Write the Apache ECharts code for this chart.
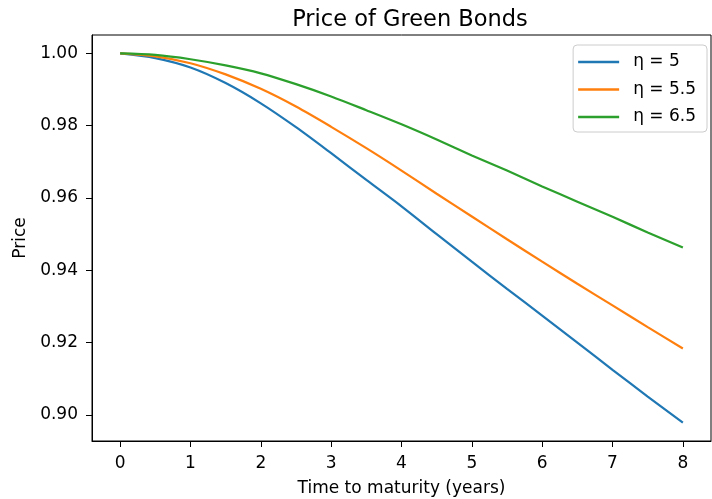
<!DOCTYPE html>
<html>
<head>
<meta charset="utf-8">
<script src="https://cdn.jsdelivr.net/npm/echarts@6/dist/echarts.min.js"></script>
<style>html,body{margin:0;padding:0;background:#fff}#c{width:712px;height:499px}</style>
</head>
<body>
<div id="c"></div>
<script>
const years = [0, 0.5, 1, 1.5, 2, 2.5, 3, 3.5, 4, 4.5, 5, 5.5, 6, 6.5, 7, 7.5, 8];
const eta5  = [1.0000, 0.9987, 0.9961, 0.9918, 0.9862, 0.9796, 0.9724, 0.9650, 0.9577, 0.9500, 0.9424, 0.9349, 0.9275, 0.9200, 0.9125, 0.9051, 0.8979];
const eta55 = [1.0000, 0.9992, 0.9973, 0.9942, 0.9902, 0.9853, 0.9797, 0.9738, 0.9676, 0.9612, 0.9549, 0.9486, 0.9424, 0.9363, 0.9303, 0.9243, 0.9184];
const eta65 = [1.0000, 0.9996, 0.9984, 0.9967, 0.9945, 0.9915, 0.9881, 0.9843, 0.9804, 0.9762, 0.9718, 0.9676, 0.9632, 0.9590, 0.9548, 0.9505, 0.9463];
const xTicks = [0, 1, 2, 3, 4, 5, 6, 7, 8];
const yTicks = [0.90, 0.92, 0.94, 0.96, 0.98, 1.00];
const names = ['η = 5', 'η = 5.5', 'η = 6.5'];
const colors = ['#1f77b4', '#ff7f0e', '#2ca02c'];
const seriesVals = [eta5, eta55, eta65];

const font = 'DejaVu Sans';
const chart = echarts.init(document.getElementById('c'), null, {renderer: 'canvas'});
chart.setOption({
  animation: false,
  backgroundColor: '#fff',
  title: {
    text: 'Price of Green Bonds', left: 405, top: 4, textAlign: 'center',
    textStyle: {fontFamily: font, fontSize: 22.5, fontWeight: 'normal', color: '#000'}
  },
  legend: {
    orient: 'vertical', right: 5, top: 45,
    data: names.map(n => ({name: n, icon: 'rect'})),
    itemWidth: 41, itemHeight: 2.5, itemGap: 7.5,
    padding: [7, 11, 5, 5],
    borderColor: '#cccccc', borderWidth: 1, borderRadius: 4,
    backgroundColor: 'rgba(255,255,255,0.8)',
    textStyle: {fontFamily: font, fontSize: 17, color: '#000', lineHeight: 20, padding: [0, 0, 0, 9]}
  },
  grid: {left: 92, right: 1, top: 35, bottom: 58, outerBoundsMode: 'none', containLabel: false,
    show: true, borderColor: '#000', borderWidth: 1, backgroundColor: 'transparent'},
  xAxis: {
    type: 'value', min: -0.4, max: 8.4,
    name: 'Time to maturity (years)', nameLocation: 'middle', nameGap: 39,
    nameTextStyle: {fontFamily: font, fontSize: 17, color: '#000'},
    axisLine: {show: true, onZero: false, lineStyle: {color: '#000', width: 1}},
    axisTick: {show: true, customValues: xTicks, length: 6, lineStyle: {color: '#000', width: 1}},
    axisLabel: {customValues: xTicks, fontFamily: font, fontSize: 17, color: '#000', margin: 14, formatter: v => String(v)},
    splitLine: {show: false}
  },
  yAxis: {
    type: 'value', min: 0.8928, max: 1.0051,
    name: 'Price', nameLocation: 'middle', nameGap: 62, nameRotate: 90,
    nameTextStyle: {fontFamily: font, fontSize: 17, color: '#000'},
    axisLine: {show: true, onZero: false, lineStyle: {color: '#000', width: 1}},
    axisTick: {show: true, customValues: yTicks, length: 6, lineStyle: {color: '#000', width: 1}},
    axisLabel: {customValues: yTicks, fontFamily: font, fontSize: 17, color: '#000', margin: 14, formatter: v => v.toFixed(2)},
    splitLine: {show: false}
  },
  series: names.map((n, i) => ({
    name: n, type: 'line', smooth: 0.3, symbol: 'none',
    color: colors[i],
    lineStyle: {color: colors[i], width: 2.2},
    data: years.map((x, j) => [x, seriesVals[i][j]])
  }))
});
</script>
</body>
</html>
